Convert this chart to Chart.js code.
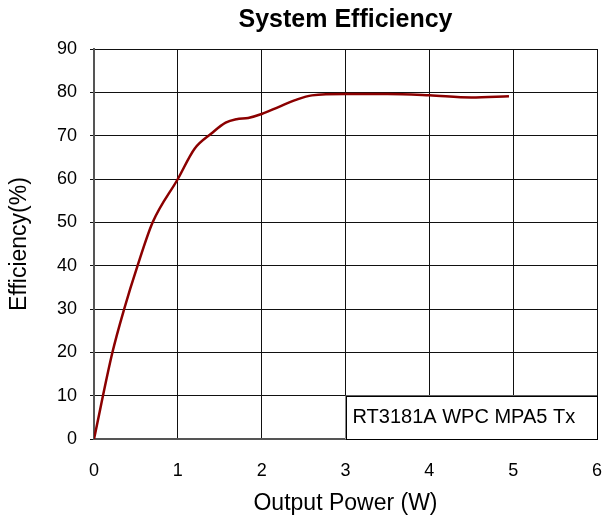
<!DOCTYPE html>
<html>
<head>
<meta charset="utf-8">
<script src="https://cdn.jsdelivr.net/npm/chart.js@4/dist/chart.umd.min.js"></script>
<style>
  html, body { margin: 0; padding: 0; background: #fff; }
  #wrap { width: 603px; height: 522px; }
</style>
</head>
<body>
<div id="wrap"><canvas id="chart" width="603" height="522"></canvas></div>
<script>
// measured output power (W) and efficiency (%)
const powerW = [0, 0.22, 0.36, 0.52, 0.7, 1.0, 1.2, 1.4, 1.57, 1.7, 1.84, 2.0, 2.2, 2.4, 2.6, 3.0, 3.5, 4.0, 4.5, 4.95];
const efficiency = [0, 20, 30, 40, 50, 60, 67, 70.5, 73, 73.8, 74.1, 75, 76.6, 78.2, 79.3, 79.6, 79.6, 79.3, 78.8, 79.1];
const xTicks = [0, 1, 2, 3, 4, 5, 6];
const yTicks = [0, 10, 20, 30, 40, 50, 60, 70, 80, 90];
const noteText = "RT3181A WPC MPA5 Tx";

const FONT = "'Liberation Sans', Arial, sans-serif";

const noteBox = {
  id: "noteBox",
  afterDatasetsDraw(chart) {
    const { ctx, scales: { x, y } } = chart;
    const l = x.getPixelForValue(3), r = x.getPixelForValue(6);
    const t = y.getPixelForValue(10), b = y.getPixelForValue(0);
    ctx.save();
    ctx.fillStyle = "#fff";
    ctx.fillRect(l, t, r - l, b - t);
    ctx.strokeStyle = "#000";
    ctx.lineWidth = 1;
    ctx.strokeRect(Math.round(l) + 0.5, Math.round(t) + 0.5, Math.round(r - l) - 1, Math.round(b - t));
    ctx.fillStyle = "#000";
    ctx.font = "20px " + FONT;
    ctx.textBaseline = "middle";
    ctx.fillText(noteText, l + 7, (t + b) / 2);
    ctx.restore();
  }
};

new Chart(document.getElementById("chart"), {
  type: "line",
  data: {
    datasets: [{
      data: powerW.map((p, i) => ({ x: p, y: efficiency[i] })),
      borderColor: "#8b0000",
      borderWidth: 2.5,
      pointRadius: 0,
      cubicInterpolationMode: "monotone",
      fill: false
    }]
  },
  options: {
    responsive: false,
    animation: false,
    layout: { padding: 0 },
    plugins: {
      legend: { display: false },
      tooltip: { enabled: false },
      title: {
        display: true,
        fullSize: false,
        text: "System Efficiency",
        color: "#000",
        font: { family: FONT, size: 25, weight: "bold" },
        padding: { top: 5, bottom: 14 }
      }
    },
    scales: {
      x: {
        type: "linear",
        min: 0, max: 6,
        afterBuildTicks: (s) => { s.ticks = xTicks.map(v => ({ value: v })); },
        afterFit: (s) => { s.height = 83; s.paddingRight = 6; },
        ticks: { color: "#000", font: { family: FONT, size: 18 }, padding: 3 },
        grid: { color: "#111", lineWidth: 1, tickLength: 18, tickColor: "rgba(0,0,0,0)" },
        border: { color: "#555", width: 2 },
        title: {
          display: true, text: "Output Power (W)", color: "#000",
          font: { family: FONT, size: 23 }, padding: { top: 4, bottom: 5 }
        }
      },
      y: {
        min: 0, max: 90,
        afterBuildTicks: (s) => { s.ticks = yTicks.map(v => ({ value: v })); },
        afterFit: (s) => { s.width = 94; },
        ticks: { color: "#000", font: { family: FONT, size: 18 }, padding: 13 },
        grid: { color: "#111", lineWidth: 1, tickLength: 4 },
        border: { color: "#555", width: 2 },
        title: {
          display: true, text: "Efficiency(%)", color: "#000",
          font: { family: FONT, size: 23 }, padding: { top: 6, bottom: 0 }
        }
      }
    }
  },
  plugins: [noteBox]
});
</script>
</body>
</html>
